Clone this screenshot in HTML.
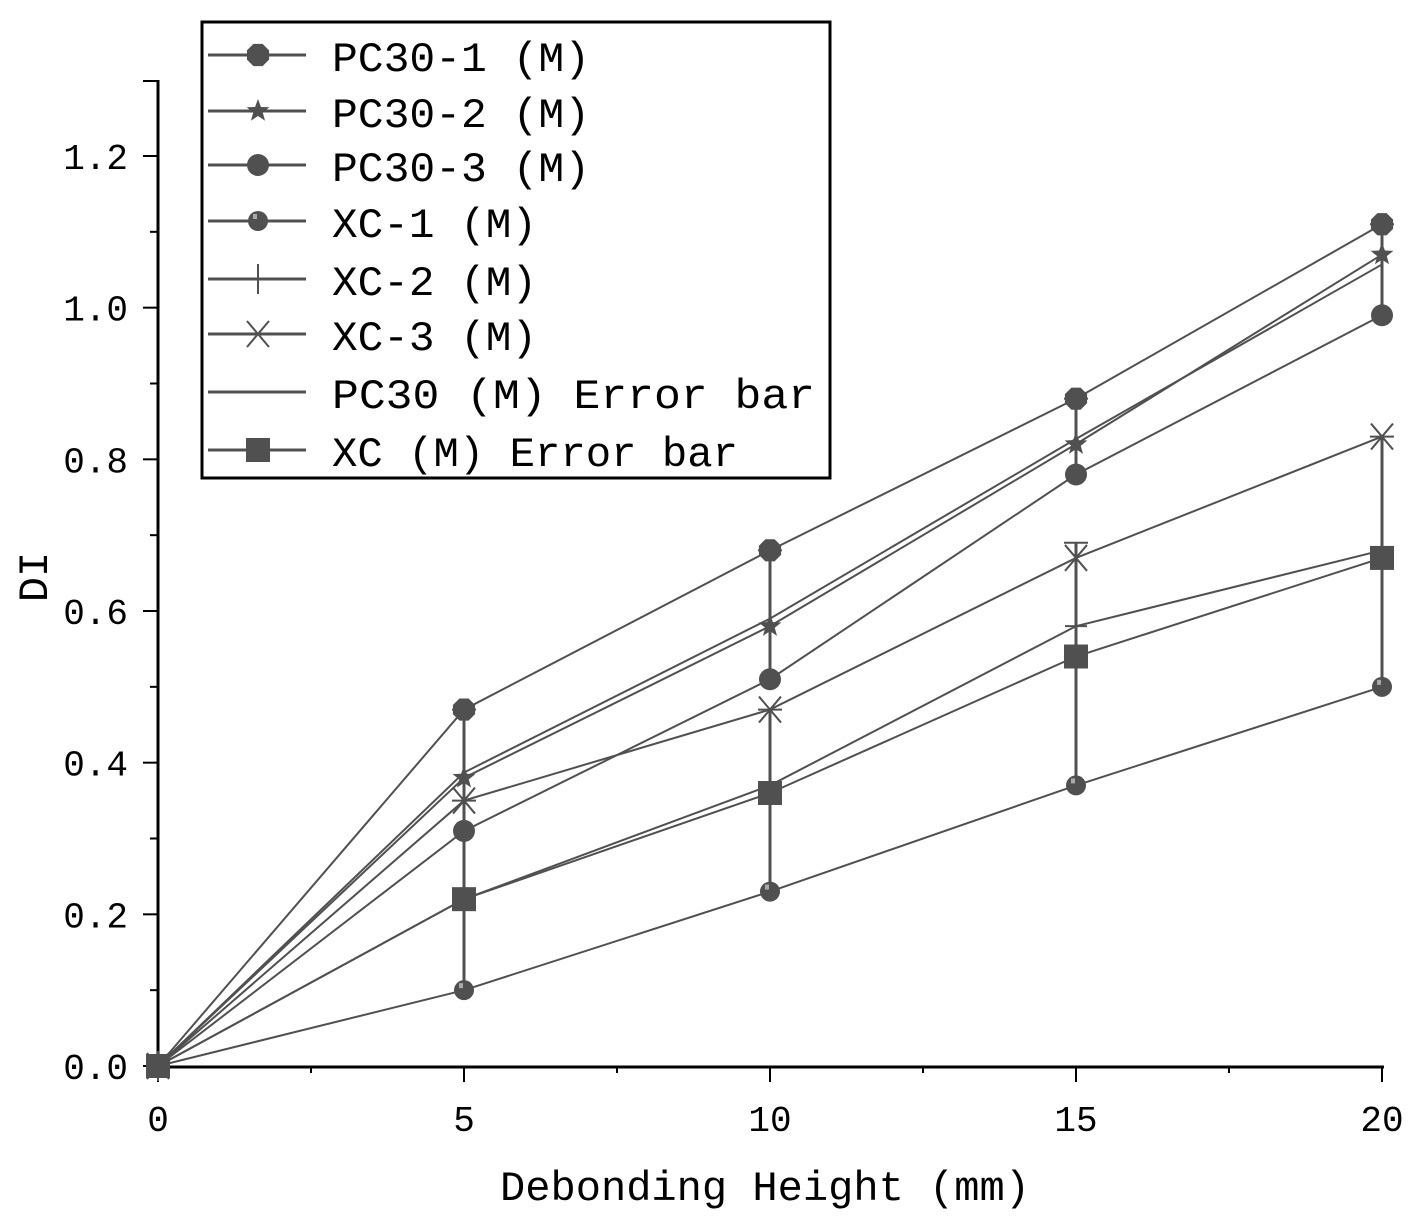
<!DOCTYPE html>
<html><head><meta charset="utf-8"><style>
html,body{margin:0;padding:0;background:#fff}
svg{display:block}
text{font-family:"Liberation Mono","Noto Sans CJK SC",monospace;fill:#000}
</style></head><body>
<svg id="chart" width="1416" height="1221" viewBox="0 0 1416 1221" xmlns="http://www.w3.org/2000/svg">
<g id="axes"></g>
<g id="bars"></g>
<g id="lines"></g>
<g id="legend"></g>
</svg>
<script>
const xCats = [0, 5, 10, 15, 20];
const pc301 = [0, 0.47, 0.68, 0.88, 1.11];
const pc302 = [0, 0.38, 0.58, 0.82, 1.07];
const pc303 = [0, 0.31, 0.51, 0.78, 0.99];
const xc1 = [0, 0.10, 0.23, 0.37, 0.50];
const xc2 = [0, 0.22, 0.37, 0.58, 0.68];
const xc3 = [0, 0.35, 0.47, 0.67, 0.83];
const pcMean = [0, 0.387, 0.59, 0.827, 1.057];
const pcLow = [0, 0.31, 0.51, 0.78, 0.99];
const pcHigh = [0, 0.47, 0.68, 0.88, 1.11];
const xcMean = [0, 0.22, 0.36, 0.54, 0.67];
const xcLow = [0, 0.10, 0.23, 0.37, 0.50];
const xcHigh = [0, 0.35, 0.47, 0.69, 0.83];
const yTicks = [0, 0.2, 0.4, 0.6, 0.8, 1.0, 1.2];
const yTickLabels = ["0.0","0.2","0.4","0.6","0.8","1.0","1.2"];
const xTicks = [0, 5, 10, 15, 20];
const xTickLabels = ["0","5","10","15","20"];

const NS = "http://www.w3.org/2000/svg";
const X = v => 158 + v * (1382 - 158) / 20;
const Y = v => 1066 - v * (1066 - 156) / 1.2;
const C = "#505050";
function mk(tag, attrs, parent){ const e=document.createElementNS(NS,tag); for(const k in attrs) e.setAttribute(k,attrs[k]); parent.appendChild(e); return e; }
const axes=document.getElementById('axes'), bars=document.getElementById('bars'), lines=document.getElementById('lines'), legend=document.getElementById('legend');

// axes
let a=mk('line',{x1:158,y1:80,x2:158,y2:1067,stroke:'#000','stroke-width':3},axes);
 
a=mk('line',{x1:157,y1:1067,x2:1384,y2:1067,stroke:'#000','stroke-width':3},axes);
 
mk('line',{x1:143,y1:81,x2:158,y2:81,stroke:'#000','stroke-width':2},axes);
for(let i=0;i<yTicks.length;i++){
  const y=Y(yTicks[i]);
  mk('line',{x1:143,y1:y,x2:158,y2:y,stroke:'#000','stroke-width':2},axes);
  if(i<yTicks.length-1) mk('line',{x1:150,y1:Y(yTicks[i]+0.1),x2:158,y2:Y(yTicks[i]+0.1),stroke:'#000','stroke-width':2},axes);
  const t=mk('text',{x:128,y:y+13,'text-anchor':'end','font-size':36},axes);
  t.textContent=yTickLabels[i];
   
}
for(let i=0;i<xTicks.length;i++){
  const x=X(xTicks[i]);
  mk('line',{x1:x,y1:1067,x2:x,y2:1082,stroke:'#000','stroke-width':2},axes);
  if(i<xTicks.length-1) mk('line',{x1:X(xTicks[i]+2.5),y1:1067,x2:X(xTicks[i]+2.5),y2:1073,stroke:'#000','stroke-width':2},axes);
  const t=mk('text',{x:x,y:1131,'text-anchor':'middle','font-size':36},axes);
  t.textContent=xTickLabels[i];
   
}
let t=mk('text',{x:765,y:1200,'text-anchor':'middle','font-size':42,textLength:530,lengthAdjust:'spacingAndGlyphs'},axes);
t.textContent='Debonding Height (mm)';
 
t=mk('text',{x:0,y:0,'text-anchor':'middle','font-size':42,transform:'translate(47,577) rotate(-90)'},axes);
t.textContent='DI';
 

// markers
function marker(type,x,y,g){
  if(type==='hex'){ const r=12; let p=[]; for(let k=0;k<8;k++){const an=Math.PI/8+k*Math.PI/4; p.push((x+r*Math.cos(an))+','+(y+r*Math.sin(an)));} mk('polygon',{points:p.join(' '),fill:C},g); }
  else if(type==='star'){ let p=[]; for(let k=0;k<10;k++){const r=k%2?5:12; const an=-Math.PI/2+k*Math.PI/5; p.push((x+r*Math.cos(an))+','+(y+r*Math.sin(an)));} mk('polygon',{points:p.join(' '),fill:C},g); }
  else if(type==='circ'){ mk('circle',{cx:x,cy:y,r:11,fill:C},g); }
  else if(type==='scirc'){ mk('circle',{cx:x,cy:y,r:10,fill:C},g); mk('rect',{x:x-5,y:y-7,width:4,height:5,fill:'#aaa'},g); }
  else if(type==='plus'){ mk('path',{d:`M${x-11},${y}H${x+11}M${x},${y-15}V${y+15}`,stroke:C,'stroke-width':2},g); }
  else if(type==='x'){ mk('path',{d:`M${x-11},${y-13}L${x+11},${y+13}M${x+11},${y-13}L${x-11},${y+13}`,stroke:C,'stroke-width':2},g); }
  else if(type==='sq'){ mk('rect',{x:x-12,y:y-12,width:24,height:24,fill:C},g); }
}

// error bars
[[pcLow,pcHigh],[xcLow,xcHigh]].forEach(([lo,hi],si)=>{
  for(let i=1;i<xCats.length;i++){
    const x=X(xCats[i]);
    const b=mk('line',{x1:x,y1:Y(lo[i]),x2:x,y2:Y(hi[i]),stroke:C,'stroke-width':3},bars);
     
    mk('line',{x1:x-12,y1:Y(hi[i]),x2:x+12,y2:Y(hi[i]),stroke:C,'stroke-width':2},bars);
  }
});

const series=[
  {n:'PC30-1 (M)',d:pc301,m:'hex',name:'series-pc30-1'},
  {n:'PC30-2 (M)',d:pc302,m:'star',name:'series-pc30-2'},
  {n:'PC30-3 (M)',d:pc303,m:'circ',name:'series-pc30-3'},
  {n:'XC-1 (M)',d:xc1,m:'scirc',name:'series-xc-1'},
  {n:'XC-2 (M)',d:xc2,m:'plus',name:'series-xc-2'},
  {n:'XC-3 (M)',d:xc3,m:'x',name:'series-xc-3'},
  {n:'PC30 (M)  Error bar',d:pcMean,m:null,name:'series-pc30-mean'},
  {n:'XC (M) Error bar',d:xcMean,m:'sq',name:'series-xc-mean'}
];
const legW=[258,258,258,205,205,205,483,406];
series.forEach((s,si)=>{
  const g=mk('g',{},lines);
   
  mk('polyline',{points:s.d.map((v,i)=>X(xCats[i])+','+Y(v)).join(' '),fill:'none',stroke:C,'stroke-width':2},g);
  if(s.m) s.d.forEach((v,i)=>marker(s.m,X(xCats[i]),Y(v),g));
});

// legend
const lb=mk('rect',{x:202,y:22,width:628,height:456,fill:'#fff',stroke:'#000','stroke-width':3},legend);
 
const legY=[55,111,165,221,279,334,392,450];
series.forEach((s,si)=>{
  const g=mk('g',{},legend);
   
  const y=legY[si];
  mk('line',{x1:208,y1:y,x2:306,y2:y,stroke:C,'stroke-width':3},g);
  if(s.m) marker(s.m,258,y,g);
  const tt=mk('text',{x:332,y:y+16,'font-size':42,textLength:legW[si],lengthAdjust:'spacingAndGlyphs'},g);
  tt.textContent=s.n;
});
</script>
</body></html>
